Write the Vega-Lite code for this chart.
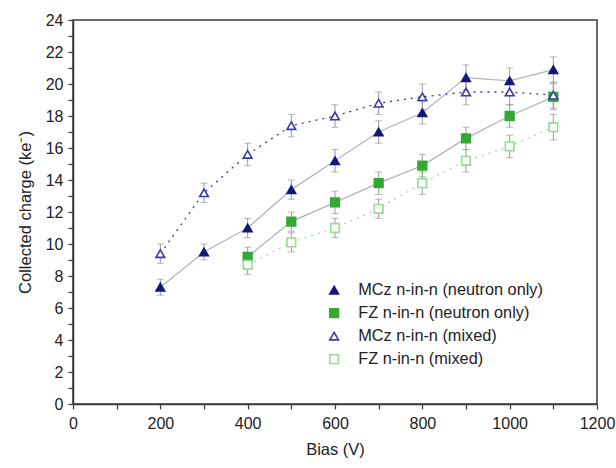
{
  "$schema": "https://vega.github.io/schema/vega-lite/v6.json",
  "autosize": {"type": "none"},
  "padding": {"left": 73, "top": 20, "right": 19, "bottom": 64},
  "width": 524,
  "height": 384,
  "background": "white",
  "config": {
    "view": {"stroke": "#3a3a3a", "strokeWidth": 1.5},
    "font": "Liberation Sans",
    "axis": {"grid": false, "domainColor": "#3a3a3a", "domainWidth": 1.5, "tickColor": "#3a3a3a", "tickWidth": 1.2, "labelColor": "#222", "titleColor": "#222", "labelFont": "Liberation Sans", "titleFont": "Liberation Sans", "labelFontSize": 16, "titleFontSize": 16.5, "titleFontWeight": "normal"}
  },
  "data": {
    "values": [
      {"series": "MCz n-in-n (neutron only)", "bias": 200, "charge": 7.3, "err": 0.5},
      {"series": "MCz n-in-n (neutron only)", "bias": 300, "charge": 9.5, "err": 0.5},
      {"series": "MCz n-in-n (neutron only)", "bias": 400, "charge": 11.0, "err": 0.6},
      {"series": "MCz n-in-n (neutron only)", "bias": 500, "charge": 13.4, "err": 0.6},
      {"series": "MCz n-in-n (neutron only)", "bias": 600, "charge": 15.2, "err": 0.7},
      {"series": "MCz n-in-n (neutron only)", "bias": 700, "charge": 17.0, "err": 0.7},
      {"series": "MCz n-in-n (neutron only)", "bias": 800, "charge": 18.2, "err": 0.7},
      {"series": "MCz n-in-n (neutron only)", "bias": 900, "charge": 20.4, "err": 0.8},
      {"series": "MCz n-in-n (neutron only)", "bias": 1000, "charge": 20.2, "err": 0.8},
      {"series": "MCz n-in-n (neutron only)", "bias": 1100, "charge": 20.9, "err": 0.8},
      {"series": "FZ n-in-n (neutron only)", "bias": 400, "charge": 9.2, "err": 0.6},
      {"series": "FZ n-in-n (neutron only)", "bias": 500, "charge": 11.4, "err": 0.6},
      {"series": "FZ n-in-n (neutron only)", "bias": 600, "charge": 12.6, "err": 0.7},
      {"series": "FZ n-in-n (neutron only)", "bias": 700, "charge": 13.8, "err": 0.7},
      {"series": "FZ n-in-n (neutron only)", "bias": 800, "charge": 14.9, "err": 0.7},
      {"series": "FZ n-in-n (neutron only)", "bias": 900, "charge": 16.6, "err": 0.7},
      {"series": "FZ n-in-n (neutron only)", "bias": 1000, "charge": 18.0, "err": 0.7},
      {"series": "FZ n-in-n (neutron only)", "bias": 1100, "charge": 19.2, "err": 0.8},
      {"series": "MCz n-in-n (mixed)", "bias": 200, "charge": 9.4, "err": 0.6},
      {"series": "MCz n-in-n (mixed)", "bias": 300, "charge": 13.2, "err": 0.6},
      {"series": "MCz n-in-n (mixed)", "bias": 400, "charge": 15.6, "err": 0.7},
      {"series": "MCz n-in-n (mixed)", "bias": 500, "charge": 17.4, "err": 0.7},
      {"series": "MCz n-in-n (mixed)", "bias": 600, "charge": 18.0, "err": 0.7},
      {"series": "MCz n-in-n (mixed)", "bias": 700, "charge": 18.8, "err": 0.7},
      {"series": "MCz n-in-n (mixed)", "bias": 800, "charge": 19.2, "err": 0.8},
      {"series": "MCz n-in-n (mixed)", "bias": 900, "charge": 19.5, "err": 0.8},
      {"series": "MCz n-in-n (mixed)", "bias": 1000, "charge": 19.5, "err": 0.8},
      {"series": "MCz n-in-n (mixed)", "bias": 1100, "charge": 19.3, "err": 0.8},
      {"series": "FZ n-in-n (mixed)", "bias": 400, "charge": 8.7, "err": 0.6},
      {"series": "FZ n-in-n (mixed)", "bias": 500, "charge": 10.1, "err": 0.6},
      {"series": "FZ n-in-n (mixed)", "bias": 600, "charge": 11.0, "err": 0.6},
      {"series": "FZ n-in-n (mixed)", "bias": 700, "charge": 12.2, "err": 0.6},
      {"series": "FZ n-in-n (mixed)", "bias": 800, "charge": 13.8, "err": 0.7},
      {"series": "FZ n-in-n (mixed)", "bias": 900, "charge": 15.2, "err": 0.7},
      {"series": "FZ n-in-n (mixed)", "bias": 1000, "charge": 16.1, "err": 0.7},
      {"series": "FZ n-in-n (mixed)", "bias": 1100, "charge": 17.3, "err": 0.8}
    ]
  },
  "encoding": {
    "x": {"field": "bias", "type": "quantitative", "scale": {"domain": [0, 1200], "nice": false},
      "axis": {"values": [0,100,200,300,400,500,600,700,800,900,1000,1100,1200], "format": "d",
        "labelExpr": "datum.value % 200 === 0 ? datum.label : ''", "labelFlush": false,
        "tickSize": 5, "labelPadding": 6, "title": "Bias (V)", "titlePadding": 10}},
    "y": {"field": "charge", "type": "quantitative", "scale": {"domain": [0, 24], "nice": false},
      "axis": {"values": [0,1,2,3,4,5,6,7,8,9,10,11,12,13,14,15,16,17,18,19,20,21,22,23,24],
        "labelExpr": "datum.value % 2 === 0 ? datum.label : ''",
        "tickSize": 5, "labelPadding": 5, "title": "Collected charge (ke⁻)", "titlePadding": 12}}
  },
  "layer": [
    {
      "transform": [{"filter": "indexof(datum.series, 'neutron') >= 0"}],
      "mark": {"type": "line", "color": "#b4b4bc", "strokeWidth": 1.3},
      "encoding": {"detail": {"field": "series"}}
    },
    {
      "transform": [{"filter": "datum.series === 'MCz n-in-n (mixed)'"}],
      "mark": {"type": "line", "color": "#3a3aa8", "strokeWidth": 1.3, "strokeDash": [2, 5]},
      "encoding": {}
    },
    {
      "transform": [{"filter": "datum.series === 'FZ n-in-n (mixed)'"}],
      "mark": {"type": "line", "color": "#9ee09e", "strokeWidth": 1.3, "strokeDash": [2, 5]},
      "encoding": {}
    },
    {
      "mark": {"type": "errorbar", "ticks": {"size": 7, "color": "#999"}, "rule": {"color": "#999"}},
      "encoding": {"yError": {"field": "err"}}
    },
    {
      "mark": {"type": "point", "size": 75, "strokeWidth": 1.6, "opacity": 1},
      "encoding": {
        "shape": {"field": "series", "type": "nominal",
          "scale": {"domain": ["MCz n-in-n (neutron only)", "FZ n-in-n (neutron only)", "MCz n-in-n (mixed)", "FZ n-in-n (mixed)"], "range": ["triangle-up", "square", "triangle-up", "square"]},
          "legend": {"title": null, "orient": "none", "legendX": 253, "legendY": 262, "padding": 0, "labelFontSize": 16.3, "labelFont": "Liberation Sans", "labelColor": "#222", "labelOffset": 16, "rowPadding": 6, "symbolSize": 75, "symbolStrokeWidth": 1.6, "labelLimit": 400}},
        "color": {"field": "series", "type": "nominal",
          "scale": {"domain": ["MCz n-in-n (neutron only)", "FZ n-in-n (neutron only)", "MCz n-in-n (mixed)", "FZ n-in-n (mixed)"], "range": ["#15157a", "#33a833", "#3a3aa8", "#95dc95"]}},
        "fill": {"field": "series", "type": "nominal",
          "scale": {"domain": ["MCz n-in-n (neutron only)", "FZ n-in-n (neutron only)", "MCz n-in-n (mixed)", "FZ n-in-n (mixed)"], "range": ["#15157a", "#33a833", "#ffffff", "#ffffff"]}}
      }
    }
  ]
}
